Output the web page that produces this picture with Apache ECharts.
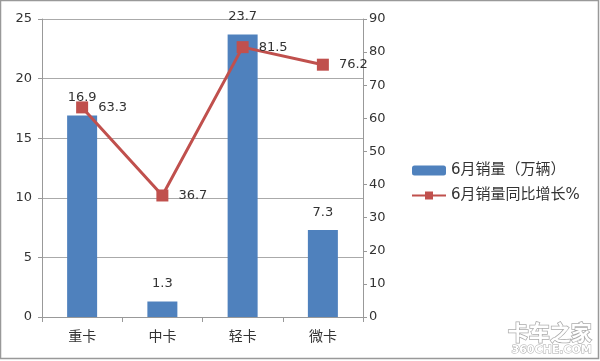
<!DOCTYPE html>
<html><head><meta charset="utf-8">
<script src="https://cdn.jsdelivr.net/npm/echarts@6/dist/echarts.min.js"></script>
<style>html,body{margin:0;padding:0;background:#fff}#c{width:600px;height:361px}</style>
</head><body><div id="c"></div>
<script>
const categories = ['重卡', '中卡', '轻卡', '微卡'];
const salesValues = [16.9, 1.3, 23.7, 7.3];
const growthValues = [63.3, 36.7, 81.5, 76.2];
const leftTicks = {min: 0, max: 25, interval: 5};
const rightTicks = {min: 0, max: 90, interval: 10};
const seriesNames = ['6月销量（万辆）', '6月销量同比增长%'];

const font = '"DejaVu Sans", "Noto Sans CJK SC", sans-serif';
const txt = '#333';
const chart = echarts.init(document.getElementById('c'));
chart.setOption({
  animation: false,
  backgroundColor: '#fff',
  textStyle: {fontFamily: font},
  grid: {left: 42, right: 237, top: 19, bottom: 44},
  legend: {
    orient: 'vertical', left: 406, top: 158, itemWidth: 34, itemHeight: 10, itemGap: 10,
    textStyle: {fontSize: 15, color: txt, fontFamily: font},
    data: seriesNames
  },
  xAxis: {
    type: 'category', data: categories,
    axisLine: {lineStyle: {color: '#999'}},
    axisTick: {show: true, length: 5, lineStyle: {color: '#999'}},
    axisLabel: {fontSize: 14, color: txt, margin: 13}
  },
  yAxis: [
    {type: 'value', min: leftTicks.min, max: leftTicks.max, interval: leftTicks.interval,
     axisLine: {show: true, lineStyle: {color: '#999'}},
     axisTick: {show: true, length: 4, lineStyle: {color: '#999'}},
     splitLine: {lineStyle: {color: '#aaa'}},
     axisLabel: {fontSize: 13, color: txt, margin: 10}},
    {type: 'value', min: rightTicks.min, max: rightTicks.max, interval: rightTicks.interval,
     axisLine: {show: true, lineStyle: {color: '#999'}},
     axisTick: {show: true, length: 4, lineStyle: {color: '#999'}},
     splitLine: {show: false},
     axisLabel: {fontSize: 13, color: txt, margin: 6}}
  ],
  series: [
    {name: seriesNames[0], type: 'bar', data: salesValues, barWidth: 30, yAxisIndex: 0,
     itemStyle: {color: '#4f81bd'},
     label: {show: true, position: 'top', distance: 11, fontSize: 13, color: txt}},
    {name: seriesNames[1], type: 'line', data: growthValues, yAxisIndex: 1,
     symbol: 'rect', symbolSize: 12,
     lineStyle: {color: '#c0504d', width: 3},
     itemStyle: {color: '#c0504d'},
     label: {show: true, position: 'right', distance: 10, fontSize: 13, color: txt}}
  ],
  graphic: [
    {type: 'rect', shape: {x: 0.5, y: 0.5, width: 598, height: 358}, style: {fill: 'none', stroke: '#999', lineWidth: 1.5}, silent: true},
    {type: 'text', left: 507, top: 321, style: {text: '卡车之家', fill: '#fff', stroke: '#aaa', lineWidth: 1.5, font: 'bold 21px "Noto Sans CJK SC", sans-serif'}},
    {type: 'text', left: 511, top: 344, style: {text: '360CHE.COM', fill: '#fff', stroke: '#aaa', lineWidth: 1, font: 'bold 11px "DejaVu Sans", sans-serif'}}
  ]
});
</script></body></html>
